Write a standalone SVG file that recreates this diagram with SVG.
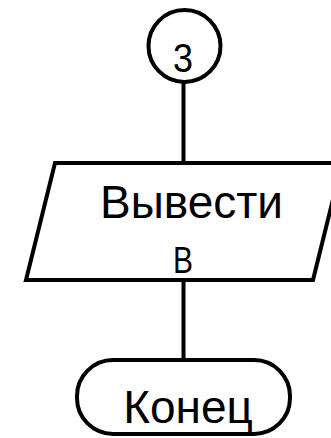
<svg xmlns="http://www.w3.org/2000/svg" width="331" height="438" viewBox="0 0 331 438">
<style>
.s{fill:#fff;stroke:#000;stroke-width:4}
.c{fill:none;stroke:#000;stroke-width:4}
.t{font-family:"Liberation Sans",Arial,sans-serif;fill:#000;text-anchor:middle}
</style>
<rect width="331" height="438" fill="#fff"/>
<g id="connectors">
<line class="c" x1="183.5" y1="83" x2="183.5" y2="165"/>
<line class="c" x1="183.5" y1="278" x2="183.5" y2="361"/>
</g>
<g id="connector3">
<circle class="s" cx="184.5" cy="46" r="36"/>
<text class="t" x="183" y="72" font-size="41" textLength="20" lengthAdjust="spacingAndGlyphs">3</text>
</g>
<g id="output">
<polygon class="s" points="55,163 342,163 313,280 26,280"/>
<text class="t" x="191.5" y="218" font-size="46">Вывести</text>
<text class="t" x="183" y="273" font-size="36" textLength="20" lengthAdjust="spacingAndGlyphs">&#1042;</text>
</g>
<g id="end">
<rect class="s" x="77" y="360" width="213" height="74" rx="36" ry="36"/>
<text class="t" x="188" y="423" font-size="46">Конец</text>
</g>
</svg>
